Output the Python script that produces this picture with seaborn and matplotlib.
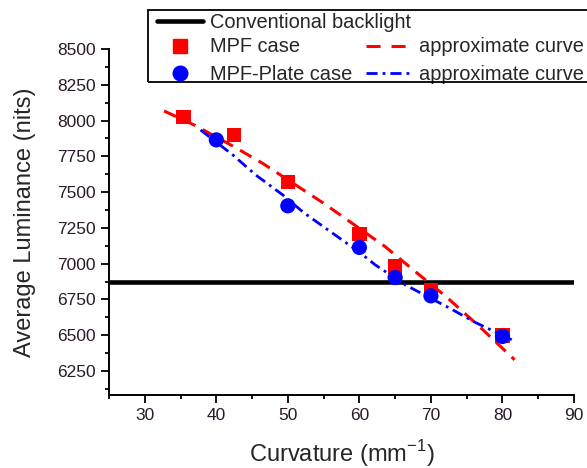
import numpy as np
import pandas as pd
import matplotlib
matplotlib.use("Agg")
import matplotlib.pyplot as plt
from matplotlib.lines import Line2D
from matplotlib.patches import Rectangle
from matplotlib.ticker import MultipleLocator
import seaborn as sns

# Measured luminance versus curvature
mpf_curv = [35.4, 42.5, 50, 60, 65, 70, 80]
mpf_lum = [8027, 7900, 7569, 7208, 6980, 6817, 6498]
plate_curv = [40, 50, 60, 65, 70, 80]
plate_lum = [7865, 7404, 7113, 6903, 6775, 6491]
conventional_lum = 6870

# Approximate (fitted) curves
mpf_fit_curv = [32.7, 36.9, 42.45, 46.6, 55.0, 59.3, 63.6, 67.9, 72.2, 77.0, 81.7]
mpf_fit_lum = [8067, 7969, 7818, 7697, 7422, 7271, 7119, 6941, 6766, 6550, 6328]
plate_fit_curv = [37.8, 42.3, 45.5, 49.3, 52.2, 55.8, 60.0, 62.2, 66.4, 72.8, 76.2, 81.3]
plate_fit_lum = [7934, 7760, 7620, 7480, 7357, 7229, 7080, 6992, 6852, 6684, 6589, 6468]

RED = "#ff0000"
BLUE = "#0000ff"
RED_DASH = (0, (4.6, 3.6))
BLUE_DASHDOT = (0, (4.0, 1.8, 1.0, 1.8))

sns.set_theme(style="ticks")
plt.rcParams["font.family"] = ["Liberation Sans", "DejaVu Sans"]

W, H = 587, 468
fig = plt.figure(figsize=(W / 100, H / 100), dpi=100)
ax = fig.add_axes([109 / W, 1 - 395 / H, (574 - 109) / W, (395 - 49) / H])

mpf = pd.DataFrame({"curv": mpf_curv, "lum": mpf_lum})
plate = pd.DataFrame({"curv": plate_curv, "lum": plate_lum})
mpf_fit = pd.DataFrame({"curv": mpf_fit_curv, "lum": mpf_fit_lum})
plate_fit = pd.DataFrame({"curv": plate_fit_curv, "lum": plate_fit_lum})

ax.axhline(conventional_lum, color="black", lw=3.3, zorder=2)

sns.scatterplot(data=mpf, x="curv", y="lum", marker="s", s=105, color=RED,
                edgecolor="none", ax=ax, zorder=3)
sns.lineplot(data=mpf_fit, x="curv", y="lum", color=RED, lw=2.2,
             ax=ax, zorder=4, linestyle=(0, (4.3, 2.7)), sort=False)
sns.scatterplot(data=plate, x="curv", y="lum", marker="o", s=120, color=BLUE,
                edgecolor="none", ax=ax, zorder=5)
sns.lineplot(data=plate_fit, x="curv", y="lum", color=BLUE, lw=2.0,
             ax=ax, zorder=6, linestyle=BLUE_DASHDOT, sort=False)

ax.set_xlim(25, 90)
ax.set_ylim(6082, 8500)
ax.set_xticks(np.arange(30, 91, 10))
ax.set_yticks(np.arange(6250, 8501, 250))
ax.xaxis.set_minor_locator(MultipleLocator(5))
ax.yaxis.set_minor_locator(MultipleLocator(125))

ax.tick_params(axis="both", which="major", direction="out", length=5.5, width=1.3,
               labelsize=12.5, colors="black", labelcolor="#2a1a2a", pad=4)
ax.tick_params(axis="both", which="minor", direction="out", length=3, width=1.3,
               colors="black")
for side in ("top", "right"):
    ax.spines[side].set_visible(False)
for side in ("left", "bottom"):
    ax.spines[side].set_linewidth(1.4)
    ax.spines[side].set_color("black")

ax.set_xlabel("Curvature (mm$^{\\mathregular{-1}}$)", fontsize=17, labelpad=11)
ax.set_ylabel("Average Luminance (nits)", fontsize=17, labelpad=15)

# Legend: a framed box with a full-width first row and a two-column block below
fig.patches.append(Rectangle((148 / W, 1 - 82 / H), (W + 20 - 148) / W, 72 / H,
                             transform=fig.transFigure, fill=False,
                             edgecolor="black", lw=1.3, zorder=10))
leg_kw = dict(frameon=False, fontsize=14.4, borderpad=0, borderaxespad=0,
              handlelength=2.3, handletextpad=0.35)
leg1 = fig.legend([Line2D([], [], color="black", lw=3.3)],
                  ["Conventional backlight"], loc="center left",
                  bbox_to_anchor=(157 / W, 1 - 22 / H), **leg_kw)
handles = [
    Line2D([], [], marker="s", color=RED, ls="none", markersize=9.5),
    Line2D([], [], marker="o", color=BLUE, ls="none", markersize=10.5),
    Line2D([], [], color=RED, lw=2.2, ls=RED_DASH),
    Line2D([], [], color=BLUE, lw=2.0, ls=BLUE_DASHDOT),
]
labels = ["MPF case", "MPF-Plate case", "approximate curve", "approximate curve"]
leg2 = fig.legend(handles, labels, ncol=2, loc="center left",
                  bbox_to_anchor=(157 / W, 1 - 60.5 / H), labelspacing=0.4,
                  columnspacing=0.7, **leg_kw)

fig.savefig("out.png", dpi=100)
